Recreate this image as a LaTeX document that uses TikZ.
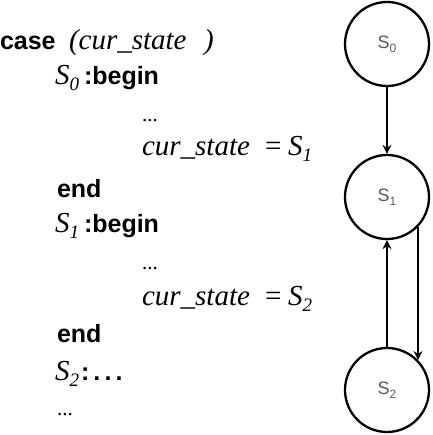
\documentclass[tikz,border=0pt]{standalone}
\usepackage{fontspec}
\usetikzlibrary{arrows.meta}
\newfontfamily\tmsfont{Liberation Serif}
\newfontfamily\arsfont{Liberation Sans}
\newcommand\kwd[1]{{\arsfont\bfseries\fontsize{25}{25}\selectfont #1}}
\newcommand\itv[1]{{\tmsfont\itshape\fontsize{29}{29}\selectfont #1}}
\newcommand\rmv[1]{{\tmsfont\fontsize{29}{29}\selectfont #1}}
\newcommand\dotsv{{\tmsfont\fontsize{21}{21}\selectfont ...}}
\newcommand\subv[1]{\raisebox{-6pt}{\tmsfont\itshape\fontsize{19}{19}\selectfont #1}}
\newcommand\stlab[1]{{\arsfont\fontsize{18}{18}\selectfont S\raisebox{-4pt}{\fontsize{12}{12}\selectfont #1}}}
\tikzset{
  code/.style={anchor=base west, inner sep=0pt, outer sep=0pt},
  state/.style={circle, draw, line width=2.3pt, minimum size=84pt, inner sep=0pt, text=black!65},
  trans/.style={line width=2.3pt, -{Stealth[length=9pt, width=9pt, inset=3pt]}}
}
\begin{document}
\begin{tikzpicture}[x=1pt, y=-1pt]
\useasboundingbox (0,0) rectangle (432,435);
% code lines
\node[code] (l1a) at (0,50) {\kwd{case}};
\node[code] (l1b) at (69,50) {\itv{(cur\_state}};
\node[code] (l1c) at (204,50) {\itv{)}};
\node[code] (l2a) at (55,85) {\itv{S}\subv{0}};
\node[code] (l2b) at (84,85) {\kwd{:begin}};
\node[code] (l3) at (142,122) {\dotsv};
\node[code] (l4a) at (142,156) {\itv{cur\_state}};
\node[code] (l4b) at (265,156) {\rmv{=}};
\node[code] (l4c) at (288,156) {\itv{S}\subv{1}};
\node[code] (l5) at (57,197) {\kwd{end}};
\node[code] (l6a) at (55,232) {\itv{S}\subv{1}};
\node[code] (l6b) at (84,232) {\kwd{:begin}};
\node[code] (l7) at (142,269) {\dotsv};
\node[code] (l8a) at (142,305) {\itv{cur\_state}};
\node[code] (l8b) at (265,305) {\rmv{=}};
\node[code] (l8c) at (288,305) {\itv{S}\subv{2}};
\node[code] (l9) at (57,342) {\kwd{end}};
\node[code] (l10a) at (55,380) {\itv{S}\subv{2}};
\node[code] (l10b) at (81,380) {\kwd{:\,.\,.\,.}};
\node[code] (l11) at (57,415) {\dotsv};
% states
\node[state] (s0) at (387,44) {\stlab{0}};
\node[state] (s1) at (387,197) {\stlab{1}};
\node[state] (s2) at (387,390) {\stlab{2}};
\draw[trans] (s0) -- (s1);
\draw[trans] (s2) -- (s1);
\draw[trans] (s1.-44.4) -- (s2.44.4);
\end{tikzpicture}
\end{document}
